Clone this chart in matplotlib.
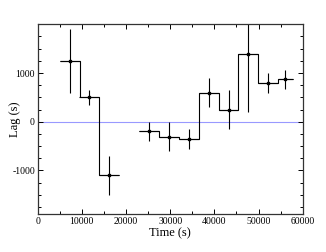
#!/usr/bin/env python3

import numpy as np
import matplotlib.pyplot as plt
from matplotlib.ticker import MultipleLocator

plt.rcParams['font.family'] = ['Liberation Serif', 'DejaVu Serif']
plt.rcParams['axes.unicode_minus'] = False

# first segment
t1 = [7250, 11700, 16200]
lag1 = [1250, 500, -1100]
terr1 = [2250, 2250, 2250]
err1 = [650, 150, 400]

# second segment
t2 = [25200, 29700, 34200, 38700, 43200, 47700, 52200, 56100]
lag2 = [-200, -310, -350, 600, 250, 1400, 800, 870]
terr2 = [2250, 2250, 2250, 2250, 2250, 2250, 2250, 1700]
err2 = [200, 300, 200, 300, 400, 1200, 200, 190]


def draw(ax, t, lag, terr, err):
    t = np.array(t, dtype=float)
    terr = np.array(terr, dtype=float)
    edges = np.append(t - terr, t[-1] + terr[-1])
    # bin edges between neighbours
    edges[1:-1] = (t[:-1] + terr[:-1] + t[1:] - terr[1:]) / 2
    ax.stairs(lag, edges, baseline=None, color='black', lw=0.8)
    ax.errorbar(t, lag, xerr=terr, yerr=err, fmt='s', color='black',
                ms=2, elinewidth=0.8, capsize=0)


fig = plt.figure(figsize=(3.26, 2.52), dpi=100)
ax = fig.add_axes([0.1156, 0.1496, 0.813, 0.754])

ax.axhline(0, color='#9999ff', lw=0.8, zorder=0)
draw(ax, t1, lag1, terr1, err1)
draw(ax, t2, lag2, terr2, err2)

ax.set_xlim(0, 60000)
ax.set_ylim(-1900, 2000)
ax.xaxis.set_major_locator(MultipleLocator(10000))
ax.xaxis.set_minor_locator(MultipleLocator(5000))
ax.yaxis.set_major_locator(MultipleLocator(1000))
ax.yaxis.set_minor_locator(MultipleLocator(250))
ax.set_yticks([-1000, 0, 1000])
ax.tick_params(which='both', direction='in', top=True, right=True,
               labelsize=7, width=0.7, pad=2)
ax.tick_params(which='major', length=3.5)
ax.tick_params(which='minor', length=2)
for s in ax.spines.values():
    s.set_linewidth(0.9)
    s.set_color('#333333')

ax.set_xlabel("Time (s)", fontsize=9, labelpad=1)
ax.set_ylabel("Lag (s)", fontsize=9)
ax.yaxis.set_label_coords(-0.063, 0.5)

fig.savefig("out.png", dpi=100)
